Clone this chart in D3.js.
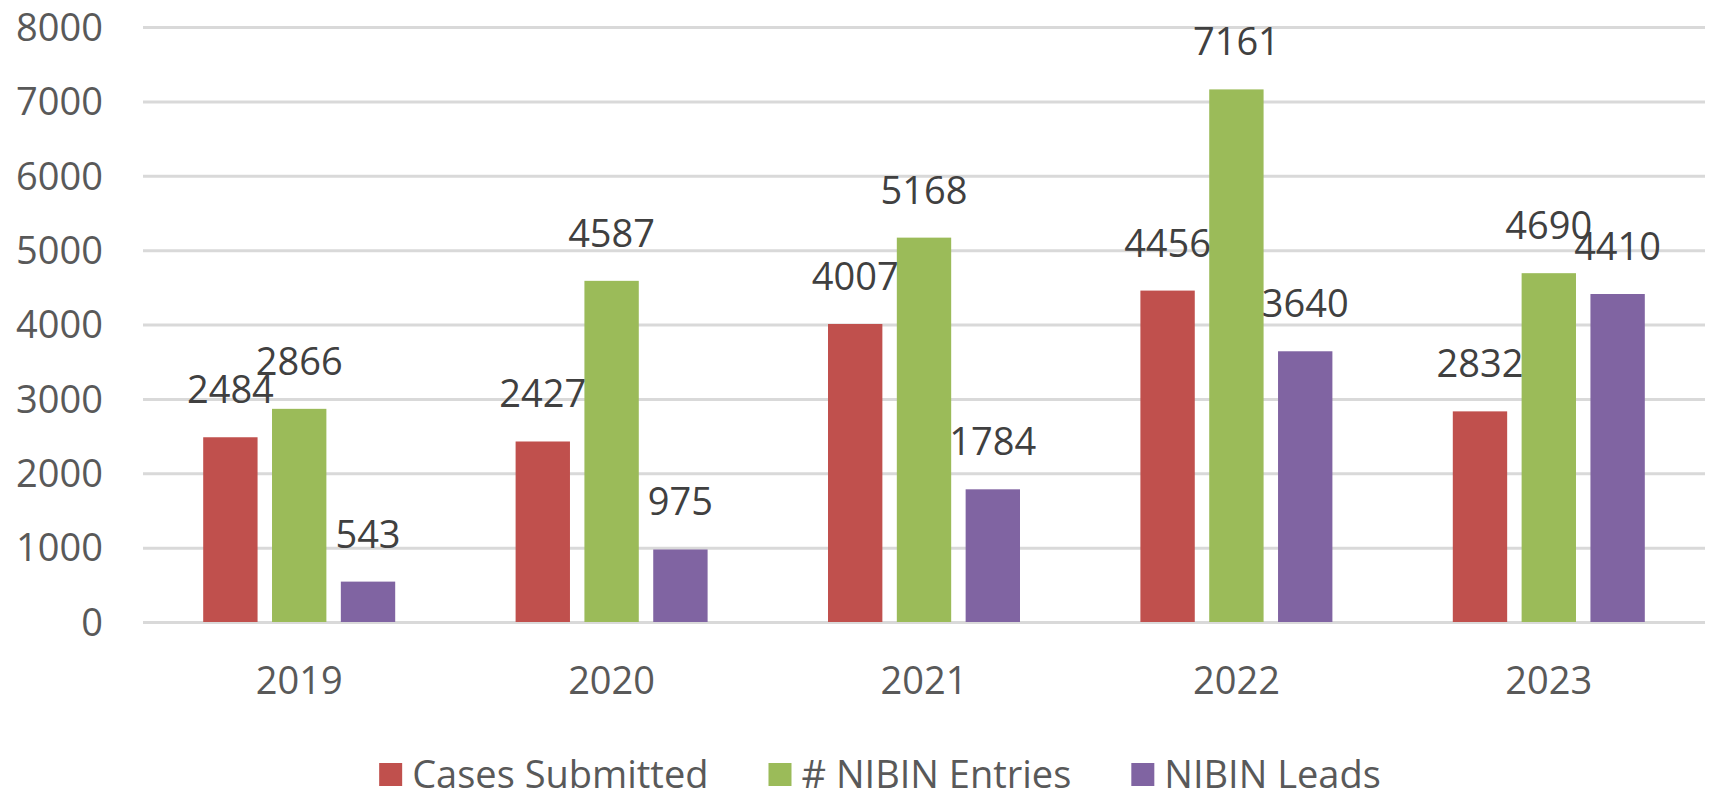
<!DOCTYPE html>
<html>
<head>
<meta charset="utf-8">
<script src="https://cdn.jsdelivr.net/npm/d3@7"></script>
<style>
  html, body { margin: 0; padding: 0; background: #fff; }
  svg { display: block; font-family: "Open Sans", sans-serif; }
</style>
</head>
<body>
<svg id="chart"></svg>
<script>
const years = ['2019', '2020', '2021', '2022', '2023'];
const seriesNames = ['Cases Submitted', '# NIBIN Entries', 'NIBIN Leads'];
const casesSubmitted = [2484, 2427, 4007, 4456, 2832];
const nibinEntries = [2866, 4587, 5168, 7161, 4690];
const nibinLeads = [543, 975, 1784, 3640, 4410];
const yTicks = [0, 1000, 2000, 3000, 4000, 5000, 6000, 7000, 8000];
const colors = ['#C0504D', '#9BBB59', '#8064A2'];

const width = 1709, height = 799;
const margin = { left: 143, right: 1705, top: 27, bottom: 622 };

const svg = d3.select('#chart')
  .attr('width', width)
  .attr('height', height);

const values = [casesSubmitted, nibinEntries, nibinLeads];
const rows = years.map((yr, i) => ({
  year: yr,
  vals: seriesNames.map((s, j) => ({ key: s, value: values[j][i], color: colors[j] }))
}));

const x0 = d3.scaleBand().domain(years).range([margin.left, margin.right]).padding(0);
const groupW = 192;
const x1 = d3.scaleBand().domain(seriesNames).range([0, groupW]).paddingInner(0.21).paddingOuter(0);
const y = d3.scaleLinear().domain([0, 8000]).range([margin.bottom, margin.top]);

// gridlines + y labels
const yAxis = svg.append('g')
  .attr('transform', `translate(${margin.left},0)`)
  .call(d3.axisLeft(y)
    .tickValues(yTicks)
    .tickFormat(d3.format('d'))
    .tickSizeInner(-(margin.right - margin.left))
    .tickSizeOuter(0)
    .tickPadding(40));
yAxis.select('.domain').remove();
yAxis.selectAll('.tick line').attr('stroke', '#d9d9d9').attr('stroke-width', 3);
yAxis.selectAll('.tick text')
  .attr('fill', '#595959')
  .attr('font-size', 38)
  .attr('font-family', '"Open Sans", sans-serif')
  .attr('dy', '0.35em');

// bars
const groups = svg.selectAll('.grp')
  .data(rows)
  .enter()
  .append('g')
  .attr('class', 'grp')
  .attr('transform', d => `translate(${x0(d.year) + x0.bandwidth() / 2 - groupW / 2},0)`);

groups.selectAll('rect')
  .data(d => d.vals)
  .enter()
  .append('rect')
  .attr('x', d => x1(d.key))
  .attr('y', d => y(d.value))
  .attr('width', x1.bandwidth())
  .attr('height', d => y(0) - y(d.value))
  .attr('fill', d => d.color);

groups.selectAll('text.lbl')
  .data(d => d.vals)
  .enter()
  .append('text')
  .attr('class', 'lbl')
  .attr('x', d => x1(d.key) + x1.bandwidth() / 2)
  .attr('y', d => y(d.value) - 34)
  .attr('text-anchor', 'middle')
  .attr('font-size', 38)
  .attr('fill', '#404040')
  .text(d => d.value);

// x labels
const xAxis = svg.append('g')
  .attr('transform', `translate(0,${margin.bottom})`)
  .call(d3.axisBottom(x0).tickSize(0));
xAxis.select('.domain').remove();
xAxis.selectAll('.tick text')
  .attr('fill', '#595959')
  .attr('font-size', 38)
  .attr('font-family', '"Open Sans", sans-serif')
  .attr('dy', 0)
  .attr('y', 72);

// legend
const legend = svg.append('g');
const items = legend.selectAll('g')
  .data(seriesNames)
  .enter()
  .append('g');
items.append('rect')
  .attr('width', 23)
  .attr('height', 23)
  .attr('y', -12)
  .attr('fill', (d, i) => colors[i]);
items.append('text')
  .attr('x', 33)
  .attr('dy', '0.35em')
  .attr('font-size', 38)
  .attr('fill', '#595959')
  .text(d => d);

const gap = 60;
let cx = 0;
items.each(function () {
  const w = this.getBBox().width;
  d3.select(this).attr('transform', `translate(${cx},0)`);
  cx += w + gap;
});
const totalW = cx - gap;
legend.attr('transform', `translate(${880 - totalW / 2},775)`);
</script>
</body>
</html>
